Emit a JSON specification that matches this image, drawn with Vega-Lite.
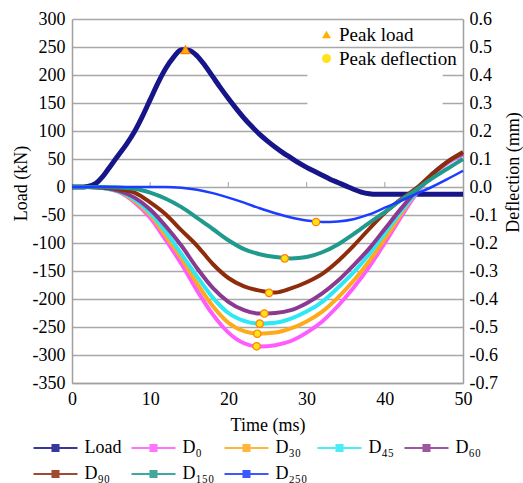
{
  "$schema": "https://vega.github.io/schema/vega-lite/v6.json",
  "width": 391,
  "height": 364,
  "autosize": {"type": "none"},
  "padding": {"left": 72, "top": 19, "right": 60, "bottom": 100},
  "background": "white",
  "config": {
    "font": "Liberation Serif",
    "view": {"stroke": null},
    "axis": {
      "labelFont": "Liberation Serif", "titleFont": "Liberation Serif",
      "labelFontSize": 18, "titleFontSize": 18, "titleFontWeight": "normal",
      "labelColor": "black", "titleColor": "black",
      "domainColor": "#a0a0a0", "domainWidth": 1.5,
      "gridColor": "#a8a8a8", "gridWidth": 1.5, "ticks": false
    },
    "legend": {"labelFont": "Liberation Serif", "labelFontSize": 18, "labelColor": "black"},
    "style": {"guide-label": {"font": "Liberation Serif"}, "guide-title": {"font": "Liberation Serif"}}
  },
  "datasets": {
    "load": [
      {"s":"Load","t":0,"kN":0},{"s":"Load","t":1,"kN":0},{"s":"Load","t":2,"kN":1},{"s":"Load","t":3,"kN":6},
      {"s":"Load","t":4,"kN":20},{"s":"Load","t":5,"kN":39},{"s":"Load","t":6,"kN":58},{"s":"Load","t":7,"kN":77},
      {"s":"Load","t":8,"kN":99},{"s":"Load","t":9,"kN":126},{"s":"Load","t":10,"kN":156},{"s":"Load","t":11,"kN":186},
      {"s":"Load","t":12,"kN":212},{"s":"Load","t":13,"kN":232},{"s":"Load","t":14,"kN":245},{"s":"Load","t":15,"kN":244},
      {"s":"Load","t":16,"kN":234},{"s":"Load","t":17,"kN":217},{"s":"Load","t":18,"kN":197},{"s":"Load","t":19,"kN":177},
      {"s":"Load","t":20,"kN":158},{"s":"Load","t":21,"kN":140},{"s":"Load","t":22,"kN":123},{"s":"Load","t":23,"kN":108},
      {"s":"Load","t":24,"kN":94},{"s":"Load","t":25,"kN":82},{"s":"Load","t":26,"kN":71},{"s":"Load","t":27,"kN":61},
      {"s":"Load","t":28,"kN":52},{"s":"Load","t":29,"kN":43},{"s":"Load","t":30,"kN":35},{"s":"Load","t":31,"kN":28},
      {"s":"Load","t":32,"kN":21},{"s":"Load","t":33,"kN":14},{"s":"Load","t":34,"kN":8},{"s":"Load","t":35,"kN":2},
      {"s":"Load","t":36,"kN":-4},{"s":"Load","t":37,"kN":-9},{"s":"Load","t":38,"kN":-12},{"s":"Load","t":39,"kN":-13},
      {"s":"Load","t":40,"kN":-13},{"s":"Load","t":42,"kN":-13},{"s":"Load","t":44,"kN":-13},{"s":"Load","t":46,"kN":-13},
      {"s":"Load","t":48,"kN":-13},{"s":"Load","t":50,"kN":-13}
    ],
    "zeroTicks": [{"t":10,"kN":0},{"t":20,"kN":0},{"t":30,"kN":0},{"t":40,"kN":0}],
    "peakLoad": [{"kind":"Peak load","t":14.5,"kN":245}],
    "box": [{"t":30.1,"t2":47.4,"mm":0.44,"mm2":0.292}],
    "peakDefl": [
      {"kind":"Peak deflection","s":"D₀","t":23.6,"mm":-0.569},
      {"kind":"Peak deflection","s":"D₃₀","t":23.7,"mm":-0.524},
      {"kind":"Peak deflection","s":"D₄₅","t":24.0,"mm":-0.488},
      {"kind":"Peak deflection","s":"D₆₀","t":24.6,"mm":-0.452},
      {"kind":"Peak deflection","s":"D₉₀","t":25.2,"mm":-0.378},
      {"kind":"Peak deflection","s":"D₁₅₀","t":27.2,"mm":-0.255},
      {"kind":"Peak deflection","s":"D₂₅₀","t":31.2,"mm":-0.125}
    ],
    "defl": [
      {"s":"D₀","t":0,"mm":0},{"s":"D₀","t":2,"mm":0},{"s":"D₀","t":4,"mm":-0.004},{"s":"D₀","t":6,"mm":-0.018},{"s":"D₀","t":8,"mm":-0.055},{"s":"D₀","t":10,"mm":-0.11},{"s":"D₀","t":12,"mm":-0.19},{"s":"D₀","t":14,"mm":-0.275},{"s":"D₀","t":16,"mm":-0.37},{"s":"D₀","t":18,"mm":-0.455},{"s":"D₀","t":20,"mm":-0.52},{"s":"D₀","t":22,"mm":-0.558},{"s":"D₀","t":24,"mm":-0.57},{"s":"D₀","t":26,"mm":-0.565},{"s":"D₀","t":28,"mm":-0.55},{"s":"D₀","t":30,"mm":-0.52},{"s":"D₀","t":32,"mm":-0.48},{"s":"D₀","t":34,"mm":-0.425},{"s":"D₀","t":36,"mm":-0.36},{"s":"D₀","t":38,"mm":-0.285},{"s":"D₀","t":40,"mm":-0.2},{"s":"D₀","t":42,"mm":-0.11},{"s":"D₀","t":44,"mm":-0.025},{"s":"D₀","t":46,"mm":0.04},{"s":"D₀","t":48,"mm":0.085},{"s":"D₀","t":50,"mm":0.115},
      {"s":"D₃₀","t":0,"mm":0},{"s":"D₃₀","t":2,"mm":0},{"s":"D₃₀","t":4,"mm":-0.004},{"s":"D₃₀","t":6,"mm":-0.017},{"s":"D₃₀","t":8,"mm":-0.05},{"s":"D₃₀","t":10,"mm":-0.1},{"s":"D₃₀","t":12,"mm":-0.175},{"s":"D₃₀","t":14,"mm":-0.255},{"s":"D₃₀","t":16,"mm":-0.345},{"s":"D₃₀","t":18,"mm":-0.425},{"s":"D₃₀","t":20,"mm":-0.485},{"s":"D₃₀","t":22,"mm":-0.515},{"s":"D₃₀","t":24,"mm":-0.524},{"s":"D₃₀","t":26,"mm":-0.52},{"s":"D₃₀","t":28,"mm":-0.505},{"s":"D₃₀","t":30,"mm":-0.48},{"s":"D₃₀","t":32,"mm":-0.445},{"s":"D₃₀","t":34,"mm":-0.395},{"s":"D₃₀","t":36,"mm":-0.335},{"s":"D₃₀","t":38,"mm":-0.265},{"s":"D₃₀","t":40,"mm":-0.185},{"s":"D₃₀","t":42,"mm":-0.1},{"s":"D₃₀","t":44,"mm":-0.02},{"s":"D₃₀","t":46,"mm":0.045},{"s":"D₃₀","t":48,"mm":0.09},{"s":"D₃₀","t":50,"mm":0.12},
      {"s":"D₄₅","t":0,"mm":0},{"s":"D₄₅","t":2,"mm":0},{"s":"D₄₅","t":4,"mm":-0.004},{"s":"D₄₅","t":6,"mm":-0.016},{"s":"D₄₅","t":8,"mm":-0.045},{"s":"D₄₅","t":10,"mm":-0.092},{"s":"D₄₅","t":12,"mm":-0.16},{"s":"D₄₅","t":14,"mm":-0.24},{"s":"D₄₅","t":16,"mm":-0.32},{"s":"D₄₅","t":18,"mm":-0.395},{"s":"D₄₅","t":20,"mm":-0.45},{"s":"D₄₅","t":22,"mm":-0.478},{"s":"D₄₅","t":24,"mm":-0.488},{"s":"D₄₅","t":26,"mm":-0.485},{"s":"D₄₅","t":28,"mm":-0.47},{"s":"D₄₅","t":30,"mm":-0.445},{"s":"D₄₅","t":32,"mm":-0.41},{"s":"D₄₅","t":34,"mm":-0.36},{"s":"D₄₅","t":36,"mm":-0.305},{"s":"D₄₅","t":38,"mm":-0.24},{"s":"D₄₅","t":40,"mm":-0.165},{"s":"D₄₅","t":42,"mm":-0.09},{"s":"D₄₅","t":44,"mm":-0.02},{"s":"D₄₅","t":46,"mm":0.045},{"s":"D₄₅","t":48,"mm":0.09},{"s":"D₄₅","t":50,"mm":0.12},
      {"s":"D₆₀","t":0,"mm":0},{"s":"D₆₀","t":2,"mm":0},{"s":"D₆₀","t":4,"mm":-0.003},{"s":"D₆₀","t":6,"mm":-0.014},{"s":"D₆₀","t":8,"mm":-0.038},{"s":"D₆₀","t":10,"mm":-0.08},{"s":"D₆₀","t":12,"mm":-0.14},{"s":"D₆₀","t":14,"mm":-0.21},{"s":"D₆₀","t":16,"mm":-0.29},{"s":"D₆₀","t":18,"mm":-0.36},{"s":"D₆₀","t":20,"mm":-0.41},{"s":"D₆₀","t":22,"mm":-0.44},{"s":"D₆₀","t":24,"mm":-0.452},{"s":"D₆₀","t":26,"mm":-0.45},{"s":"D₆₀","t":28,"mm":-0.44},{"s":"D₆₀","t":30,"mm":-0.415},{"s":"D₆₀","t":32,"mm":-0.38},{"s":"D₆₀","t":34,"mm":-0.335},{"s":"D₆₀","t":36,"mm":-0.28},{"s":"D₆₀","t":38,"mm":-0.22},{"s":"D₆₀","t":40,"mm":-0.15},{"s":"D₆₀","t":42,"mm":-0.08},{"s":"D₆₀","t":44,"mm":-0.015},{"s":"D₆₀","t":46,"mm":0.045},{"s":"D₆₀","t":48,"mm":0.09},{"s":"D₆₀","t":50,"mm":0.12},
      {"s":"D₉₀","t":0,"mm":0},{"s":"D₉₀","t":2,"mm":0},{"s":"D₉₀","t":4,"mm":-0.002},{"s":"D₉₀","t":6,"mm":-0.008},{"s":"D₉₀","t":8,"mm":-0.02},{"s":"D₉₀","t":10,"mm":-0.055},{"s":"D₉₀","t":12,"mm":-0.098},{"s":"D₉₀","t":14,"mm":-0.155},{"s":"D₉₀","t":16,"mm":-0.21},{"s":"D₉₀","t":18,"mm":-0.275},{"s":"D₉₀","t":20,"mm":-0.325},{"s":"D₉₀","t":22,"mm":-0.355},{"s":"D₉₀","t":24,"mm":-0.37},{"s":"D₉₀","t":26,"mm":-0.377},{"s":"D₉₀","t":28,"mm":-0.362},{"s":"D₉₀","t":30,"mm":-0.34},{"s":"D₉₀","t":32,"mm":-0.31},{"s":"D₉₀","t":34,"mm":-0.265},{"s":"D₉₀","t":36,"mm":-0.21},{"s":"D₉₀","t":38,"mm":-0.15},{"s":"D₉₀","t":40,"mm":-0.092},{"s":"D₉₀","t":42,"mm":-0.045},{"s":"D₉₀","t":44,"mm":-0.005},{"s":"D₉₀","t":46,"mm":0.045},{"s":"D₉₀","t":48,"mm":0.09},{"s":"D₉₀","t":50,"mm":0.125},
      {"s":"D₁₅₀","t":0,"mm":0},{"s":"D₁₅₀","t":2,"mm":0},{"s":"D₁₅₀","t":4,"mm":0},{"s":"D₁₅₀","t":6,"mm":-0.002},{"s":"D₁₅₀","t":8,"mm":-0.006},{"s":"D₁₅₀","t":10,"mm":-0.02},{"s":"D₁₅₀","t":12,"mm":-0.042},{"s":"D₁₅₀","t":14,"mm":-0.072},{"s":"D₁₅₀","t":16,"mm":-0.11},{"s":"D₁₅₀","t":18,"mm":-0.15},{"s":"D₁₅₀","t":20,"mm":-0.19},{"s":"D₁₅₀","t":22,"mm":-0.222},{"s":"D₁₅₀","t":24,"mm":-0.24},{"s":"D₁₅₀","t":26,"mm":-0.25},{"s":"D₁₅₀","t":28,"mm":-0.255},{"s":"D₁₅₀","t":30,"mm":-0.25},{"s":"D₁₅₀","t":32,"mm":-0.233},{"s":"D₁₅₀","t":34,"mm":-0.205},{"s":"D₁₅₀","t":36,"mm":-0.168},{"s":"D₁₅₀","t":38,"mm":-0.128},{"s":"D₁₅₀","t":40,"mm":-0.09},{"s":"D₁₅₀","t":42,"mm":-0.048},{"s":"D₁₅₀","t":44,"mm":-0.01},{"s":"D₁₅₀","t":46,"mm":0.03},{"s":"D₁₅₀","t":48,"mm":0.065},{"s":"D₁₅₀","t":50,"mm":0.1},
      {"s":"D₂₅₀","t":0,"mm":0},{"s":"D₂₅₀","t":2,"mm":0},{"s":"D₂₅₀","t":4,"mm":0},{"s":"D₂₅₀","t":6,"mm":0},{"s":"D₂₅₀","t":8,"mm":0},{"s":"D₂₅₀","t":10,"mm":0},{"s":"D₂₅₀","t":12,"mm":0},{"s":"D₂₅₀","t":14,"mm":-0.003},{"s":"D₂₅₀","t":16,"mm":-0.01},{"s":"D₂₅₀","t":18,"mm":-0.022},{"s":"D₂₅₀","t":20,"mm":-0.038},{"s":"D₂₅₀","t":22,"mm":-0.056},{"s":"D₂₅₀","t":24,"mm":-0.076},{"s":"D₂₅₀","t":26,"mm":-0.094},{"s":"D₂₅₀","t":28,"mm":-0.109},{"s":"D₂₅₀","t":30,"mm":-0.12},{"s":"D₂₅₀","t":32,"mm":-0.125},{"s":"D₂₅₀","t":34,"mm":-0.123},{"s":"D₂₅₀","t":36,"mm":-0.115},{"s":"D₂₅₀","t":38,"mm":-0.098},{"s":"D₂₅₀","t":40,"mm":-0.074},{"s":"D₂₅₀","t":42,"mm":-0.05},{"s":"D₂₅₀","t":44,"mm":-0.025},{"s":"D₂₅₀","t":46,"mm":0},{"s":"D₂₅₀","t":48,"mm":0.028},{"s":"D₂₅₀","t":50,"mm":0.058}
    ]
  },
  "encoding": {
    "x": {
      "field": "t", "type": "quantitative",
      "scale": {"domain": [0, 50], "nice": false},
      "axis": {"values": [0, 10, 20, 30, 40, 50], "title": "Time (ms)", "grid": false, "labelPadding": 7, "titlePadding": 8, "labelFlush": false,
        "labelFont": "Liberation Serif", "titleFont": "Liberation Serif"}
    }
  },
  "layer": [
    {
      "encoding": {
        "y": {
          "field": "kN", "type": "quantitative",
          "scale": {"domain": [-350, 300], "nice": false},
          "axis": {
            "orient": "left", "title": "Load (kN)", "grid": true,
            "values": [-350, -300, -250, -200, -150, -100, -50, 0, 50, 100, 150, 200, 250, 300],
            "labelExpr": "replace(format(datum.value, 'd'), '−', '-')",
            "labelPadding": 7, "titlePadding": 2, "titleY": 164,
            "labelFont": "Liberation Serif", "titleFont": "Liberation Serif"
          }
        }
      },
      "layer": [
        {
          "data": {"name": "zeroTicks"},
          "mark": {"type": "tick", "orient": "vertical", "size": 5, "thickness": 1.2, "color": "#909090", "yOffset": -2.5}
        },
        {
          "data": {"name": "load"},
          "mark": {"type": "line", "strokeWidth": 5, "interpolate": "monotone"},
          "encoding": {
            "color": {
              "field": "s", "type": "nominal",
              "scale": {
                "domain": ["Load", "D₀", "D₃₀", "D₄₅", "D₆₀", "D₉₀", "D₁₅₀", "D₂₅₀"],
                "range": ["#16168a", "#ff5cff", "#ffaa1a", "#2ee8f5", "#8a3a90", "#8f2c0c", "#1f9a8c", "#1c3cff"]
              },
              "legend": {
                "orient": "none", "legendX": -42, "legendY": 420,
                "title": null, "columns": 5, "direction": "horizontal",
                "symbolType": "M-4,0H4M-0.55,-0.55H0.55V0.55H-0.55Z",
                "symbolSize": 121, "symbolStrokeWidth": 2, "symbolOpacity": 0.85, "symbolOffset": 16.5,
                "labelFont": "Liberation Serif", "labelFontSize": 18, "labelOffset": 20, "columnPadding": 5, "rowPadding": 8,
                "encoding": {"symbols": {"fill": {"value": {"expr": "scale('color', datum.value)"}}}}
              }
            }
          }
        },
        {
          "data": {"name": "peakLoad"},
          "mark": {"type": "point", "filled": true, "size": 80, "stroke": "#ff7f00", "strokeWidth": 1.2, "opacity": 1},
          "encoding": {
            "fill": {
              "field": "kind", "type": "nominal",
              "scale": {"domain": ["Peak load", "Peak deflection"], "range": ["#ffb000", "#ffe21a"]},
              "legend": {"orient": "top-right", "title": null, "offset": 6, "labelFont": "Liberation Serif", "labelFontSize": 19, "labelOffset": 3, "rowPadding": 4, "symbolStrokeColor": "#ff7f00", "symbolStrokeWidth": 1.2, "symbolSize": 80}
            },
            "shape": {
              "field": "kind", "type": "nominal",
              "scale": {"domain": ["Peak load", "Peak deflection"], "range": ["triangle-up", "circle"]},
              "legend": {"orient": "top-right", "title": null, "offset": 6, "labelFont": "Liberation Serif", "labelFontSize": 19, "labelOffset": 3, "rowPadding": 4, "symbolStrokeColor": "#ff7f00", "symbolStrokeWidth": 1.2, "symbolSize": 80}
            }
          }
        }
      ]
    },
    {
      "encoding": {
        "y": {
          "field": "mm", "type": "quantitative",
          "scale": {"domain": [-0.7, 0.6], "nice": false},
          "axis": {
            "orient": "right", "title": "Deflection (mm)", "grid": false, "titleAngle": 270,
            "values": [-0.7, -0.6, -0.5, -0.4, -0.3, -0.2, -0.1, 0, 0.1, 0.2, 0.3, 0.4, 0.5, 0.6],
            "labelExpr": "replace(format(datum.value, '.1f'), '−', '-')",
            "labelPadding": 6, "titlePadding": 25, "titleY": 153,
            "labelFont": "Liberation Serif", "titleFont": "Liberation Serif"
          }
        }
      },
      "layer": [
        {
          "data": {"name": "box"},
          "mark": {"type": "rect", "color": "white"},
          "encoding": {"x2": {"field": "t2"}, "y2": {"field": "mm2"}}
        },
        {
          "data": {"name": "defl"},
          "transform": [{"filter": "datum.s !== 'D₂₅₀'"}],
          "mark": {"type": "line", "strokeWidth": 4, "interpolate": "monotone"},
          "encoding": {"color": {"field": "s", "type": "nominal"}}
        },
        {
          "data": {"name": "defl"},
          "transform": [{"filter": "datum.s === 'D₂₅₀'"}],
          "mark": {"type": "line", "strokeWidth": 2.5, "interpolate": "monotone"},
          "encoding": {"color": {"field": "s", "type": "nominal"}}
        },
        {
          "data": {"name": "peakDefl"},
          "mark": {"type": "point", "filled": true, "size": 55, "stroke": "#ff7f00", "strokeWidth": 1.2, "opacity": 1},
          "encoding": {
            "fill": {"field": "kind", "type": "nominal"},
            "shape": {"field": "kind", "type": "nominal"}
          }
        }
      ]
    }
  ],
  "resolve": {"scale": {"y": "independent"}, "axis": {"y": "independent"}}
}
